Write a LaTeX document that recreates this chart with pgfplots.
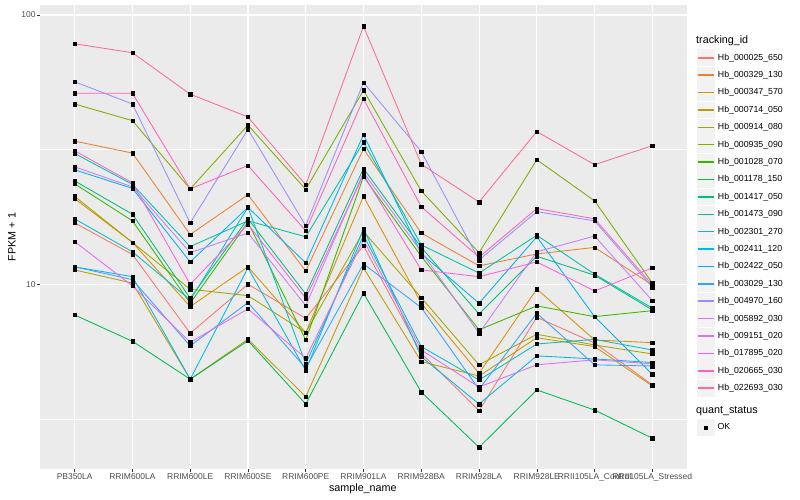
\documentclass[border=0pt]{standalone}
\usepackage{fontspec}
\setmainfont{Liberation Sans}
\usepackage{pgfplots}
\usepackage{pgfplotstable}
\pgfplotsset{compat=1.18}

\definecolor{c1}{HTML}{F8766D}
\definecolor{c2}{HTML}{EA8331}
\definecolor{c3}{HTML}{D89000}
\definecolor{c4}{HTML}{C09B00}
\definecolor{c5}{HTML}{A3A500}
\definecolor{c6}{HTML}{7CAE00}
\definecolor{c7}{HTML}{39B600}
\definecolor{c8}{HTML}{00BB4E}
\definecolor{c9}{HTML}{00BF7D}
\definecolor{c10}{HTML}{00C1A3}
\definecolor{c11}{HTML}{00BFC4}
\definecolor{c12}{HTML}{00BAE0}
\definecolor{c13}{HTML}{00B0F6}
\definecolor{c14}{HTML}{35A2FF}
\definecolor{c15}{HTML}{9590FF}
\definecolor{c16}{HTML}{C77CFF}
\definecolor{c17}{HTML}{E76BF3}
\definecolor{c18}{HTML}{FA62DB}
\definecolor{c19}{HTML}{FF62BC}
\definecolor{c20}{HTML}{FF6C91}
\definecolor{ggbg}{HTML}{EBEBEB}
\definecolor{ggkey}{HTML}{F2F2F2}
\definecolor{ggtext}{HTML}{4D4D4D}
\definecolor{ggtick}{HTML}{333333}

\pgfplotstableread{
x s1 s2 s3 s4 s5 s6 s7 s8 s9 s10 s11 s12 s13 s14 s15 s16 s17 s18 s19 s20
0 16.9 34.0 20.8 11.3 21.2 46.7 23.6 7.69 24.2 30.6 17.5 11.6 26.6 11.6 56.5 27.3 14.4 31.3 51.2 78.2
1 12.9 30.7 14.3 10.1 14.3 40.5 17.2 6.14 18.2 23.5 13.2 10.67 22.7 10.4 46.7 23.0 9.86 23.8 51.2 72.4
2 6.58 15.3 8.26 4.44 9.58 22.6 8.50 4.44 8.87 13.8 8.74 4.44 12.1 5.90 16.9 13.1 6.09 10.0 22.6 50.8
3 10.0 21.5 11.6 6.25 9.07 39.0 17.0 6.17 17.5 17.2 19.3 11.5 19.3 8.55 37.6 15.5 8.10 16.7 27.6 41.8
4 7.47 11.2 6.61 3.82 6.61 22.5 6.21 3.59 9.20 15.0 5.06 4.78 12.0 4.88 16.5 8.33 5.31 8.87 15.8 23.4
5 13.9 31.8 21.2 11.5 15.7 52.5 25.1 9.26 26.9 33.7 15.2 16.1 35.9 11.9 56.1 26.0 14.6 25.5 48.8 90.8
6 5.54 15.5 8.50 5.16 8.92 22.2 12.7 3.98 13.7 14.0 5.87 5.38 13.0 8.19 31.1 13.2 5.70 11.3 19.4 27.9
7 3.39 11.7 4.67 4.56 5.02 13.1 6.77 2.48 7.76 11.0 4.41 3.59 8.50 4.07 12.3 6.58 4.15 10.67 12.6 20.2
8 7.54 12.96 9.60 6.33 6.52 29.0 8.31 4.05 12.7 15.2 6.00 5.42 15.0 7.80 18.6 13.2 5.02 12.1 19.1 36.9
9 6.05 13.7 6.21 5.87 5.95 20.4 7.58 3.41 10.8 10.9 6.24 5.28 7.58 5.02 17.2 15.1 5.24 9.44 17.5 27.8
10 4.23 9.94 6.07 4.19 5.51 10.1 7.98 2.68 8.03 8.15 5.70 5.12 4.63 4.97 9.74 8.69 5.06 11.5 9.94 32.7
}\data

\begin{document}
\begin{tikzpicture}
\begin{axis}[
  name=main,
  scale only axis, width=647bp, height=464bp,
  xmin=-0.6, xmax=10.6,
  ymode=log, ymin=2.06, ymax=108.9,
  axis background/.style={fill=ggbg},
  axis line style={draw=none},
  xtick={0,1,2,3,4,5,6,7,8,9,10},
  xticklabels={PB350LA,RRIM600LA,RRIM600LE,RRIM600SE,RRIM600PE,RRIM901LA,RRIM928BA,RRIM928LA,RRIM928LE,RRII105LA\_Control,RRII105LA\_Stressed},
  ytick={10,100}, yticklabels={10,100},
  minor ytick={3.1623,31.623},
  /pgf/number format/assume math mode=true,
  grid=both,
  major grid style={white, line width=1.07bp},
  minor grid style={white, line width=0.53bp},
  tick pos=left,
  tick align=outside,
  major tick length=2.7bp, minor tick length=0bp,
  tick style={color=ggtick, line width=0.5bp},
  ticklabel style={font=\fontsize{8.5}{10}\selectfont, text=ggtext},
  xticklabel style={inner sep=1.5bp},
  yticklabel style={inner sep=1.5bp},
  xlabel={sample\_name}, ylabel={FPKM + 1},
  label style={font=\fontsize{10.8}{12}\selectfont},
  xlabel style={at={(axis description cs:0.499,-0.0431)}, anchor=center},
  ylabel style={at={(axis description cs:-0.0433,0.5)}, anchor=center, rotate=0},
  legend cell align=left,
  legend style={at={(axis description cs:1.01546,0.90431)}, anchor=north west,
    draw=none, fill=none, inner sep=0pt, outer sep=0pt,
    row sep=0.64bp, column sep=3.5bp,
    nodes={inner sep=0pt},
    font=\fontsize{8.8}{10}\selectfont},
  legend image code/.code={
    \fill[ggkey] (0bp,-7.95bp) rectangle (16.6bp,7.95bp);
    \draw[#1, mark=none, line width=1.5bp] (0.5bp,0bp) -- (16.1bp,0bp);
  },
  legend entries={Hb\_000025\_650,Hb\_000329\_130,Hb\_000347\_570,Hb\_000714\_050,Hb\_000914\_080,Hb\_000935\_090,Hb\_001028\_070,Hb\_001178\_150,Hb\_001417\_050,Hb\_001473\_090,Hb\_002301\_270,Hb\_002411\_120,Hb\_002422\_050,Hb\_003029\_130,Hb\_004970\_160,Hb\_005892\_030,Hb\_009151\_020,Hb\_017895\_020,Hb\_020665\_030,Hb\_022693\_030},
]
\pgfplotsinvokeforeach{1,...,20}{
  \addplot[color=c#1, line width=0.85bp, mark=none] table[x=x, y=s#1]{\data};
}
\pgfplotsinvokeforeach{1,...,20}{
  \addplot[only marks, mark=square*, mark size=1.7bp, black, forget plot] table[x=x, y=s#1]{\data};
}
\end{axis}
\begin{axis}[
  at={(main.south west)}, anchor=south west,
  scale only axis, width=647bp, height=464bp,
  hide axis, xmin=0, xmax=1, ymin=0, ymax=1,
  legend cell align=left,
  legend style={at={(axis description cs:1.01546,0.10690)}, anchor=north west,
    draw=none, fill=none, inner sep=0pt, outer sep=0pt,
    column sep=3.5bp, nodes={inner sep=0pt},
    font=\fontsize{8.8}{10}\selectfont},
]
\addlegendimage{legend image code/.code={
    \fill[ggkey] (0bp,-7.95bp) rectangle (16.6bp,7.95bp);
    \fill[black] (6.6bp,-1.7bp) rectangle (10bp,1.7bp);
  }}
\addlegendentry{OK}
\end{axis}
\node[anchor=west, font=\fontsize{10.8}{12}\selectfont, inner sep=0pt] at ([xshift=9bp,yshift=-35.7bp]main.north east) {tracking\_id};
\node[anchor=west, font=\fontsize{10.8}{12}\selectfont, inner sep=0pt] at ([xshift=9bp,yshift=-406bp]main.north east) {quant\_status};
\pgfresetboundingbox
\path ([xshift=-40bp,yshift=-31bp]main.south west) rectangle ([xshift=113bp,yshift=5bp]main.north east);
\end{tikzpicture}
\end{document}
